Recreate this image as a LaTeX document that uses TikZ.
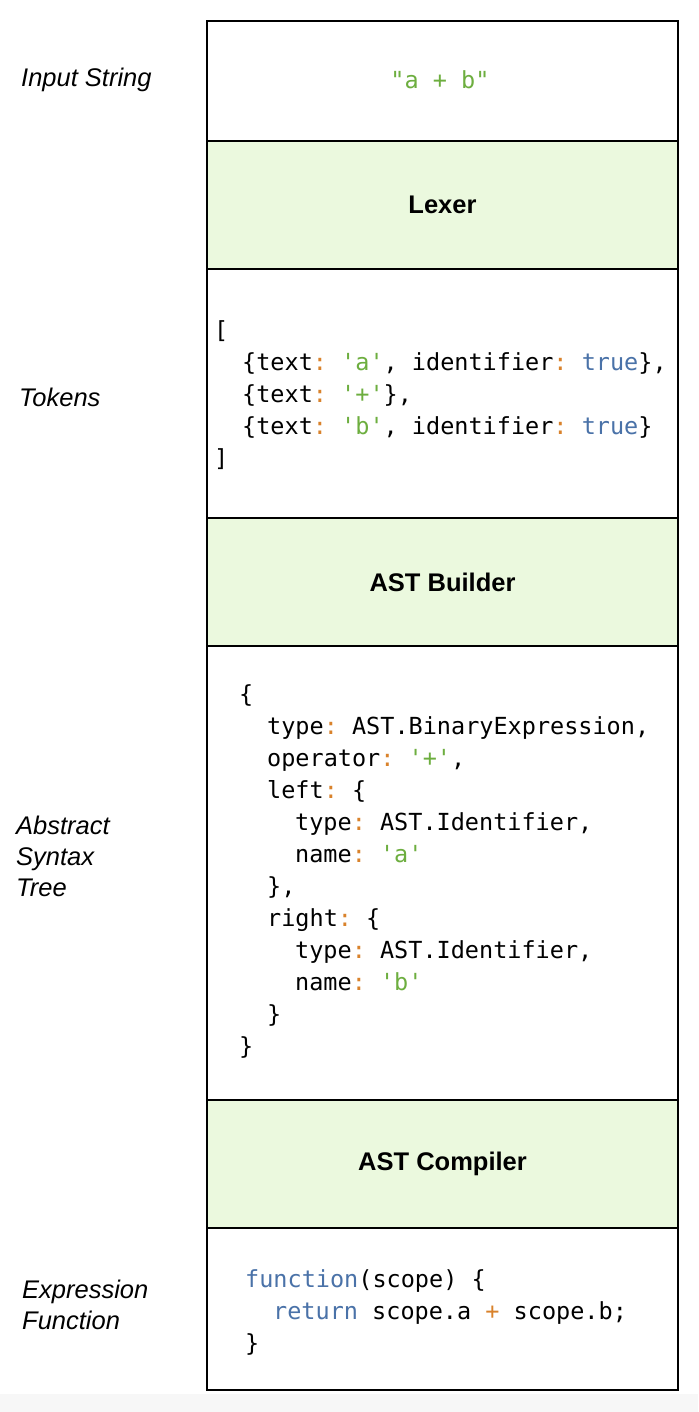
\documentclass[tikz,border=0pt]{standalone}
\usepackage{fontspec}
\setmainfont{Liberation Sans}
\setmonofont{DejaVu Sans Mono}
\definecolor{cgreen}{HTML}{6DAE3F}
\definecolor{corange}{HTML}{D9822B}
\definecolor{cblue}{HTML}{4A72A8}
\definecolor{fillg}{HTML}{EBF9DE}
\newcommand{\G}[1]{\textcolor{cgreen}{#1}}
\newcommand{\Or}[1]{\textcolor{corange}{#1}}
\newcommand{\B}[1]{\textcolor{cblue}{#1}}
\begin{document}
\begin{tikzpicture}[x=1pt,y=-1pt,
  stage/.style={draw=black, line width=1.8pt, minimum width=471pt, inner sep=0pt, outer sep=0pt, fill=white},
  proc/.style={stage, fill=fillg, font=\fontsize{25.5}{29}\selectfont\bfseries},
  lbl/.style={anchor=west, align=left, inner sep=0pt, font=\fontsize{25.5}{31}\selectfont\itshape},
  code/.style={anchor=base west, inner sep=0pt, font=\fontsize{23.5}{32}\selectfont\ttfamily}]
\useasboundingbox (0,0) rectangle (698,1412);
\fill[white] (0,0) rectangle (698,1412);
\fill[black!3] (0,1394) rectangle (698,1412);
% stages
\node[stage, minimum height=120pt] (input) at (442.5,81) {};
\node[proc, minimum height=128pt] (lexer) at (442.5,205) {Lexer};
\node[stage, minimum height=249pt] (tokens) at (442.5,393.5) {};
\node[proc, minimum height=128pt] (builder) at (442.5,582) {AST Builder};
\node[stage, minimum height=454pt] (ast) at (442.5,873) {};
\node[proc, minimum height=128pt] (compiler) at (442.5,1164) {AST Compiler};
\node[stage, minimum height=162pt] (func) at (442.5,1309) {};
% left labels
\node[lbl] (l1) at (21,80) {Input String};
\node[lbl] (l2) at (19,397) {Tokens};
\node[lbl] (l3) at (16,856) {Abstract\\Syntax\\Tree};
\node[lbl] (l4) at (22,1305) {Expression\\Function};
% input string
\node[code, anchor=center] (str) at (440,80) {\G{"a + b"}};
% tokens
\node[code] (t0) at (214,338) {[};
\node[code] (t1) at (242,370) {\{text\Or{:} \G{'a'}, identifier\Or{:} \B{true}\},};
\node[code] (t2) at (242,402) {\{text\Or{:} \G{'+'}\},};
\node[code] (t3) at (242,434) {\{text\Or{:} \G{'b'}, identifier\Or{:} \B{true}\}};
\node[code] (t4) at (214,466) {]};
% AST
\node[code] (a0) at (239,702) {\{};
\node[code] (a1) at (267,734) {type\Or{:} AST.BinaryExpression,};
\node[code] (a2) at (267,766) {operator\Or{:} \G{'+'},};
\node[code] (a3) at (267,798) {left\Or{:} \{};
\node[code] (a4) at (295,830) {type\Or{:} AST.Identifier,};
\node[code] (a5) at (295,862) {name\Or{:} \G{'a'}};
\node[code] (a6) at (267,894) {\},};
\node[code] (a7) at (267,926) {right\Or{:} \{};
\node[code] (a8) at (295,958) {type\Or{:} AST.Identifier,};
\node[code] (a9) at (295,990) {name\Or{:} \G{'b'}};
\node[code] (a10) at (267,1022) {\}};
\node[code] (a11) at (239,1054) {\}};
% function
\node[code] (f1) at (245,1287) {\B{function}(scope) \{};
\node[code] (f2) at (273,1319) {\B{return} scope.a \Or{+} scope.b;};
\node[code] (f3) at (245,1351) {\}};
\end{tikzpicture}
\end{document}
